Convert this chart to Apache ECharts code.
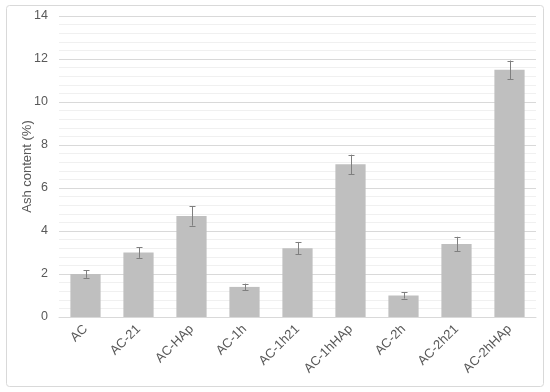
<!DOCTYPE html>
<html>
<head>
<meta charset="utf-8">
<script src="https://cdn.jsdelivr.net/npm/echarts@6/dist/echarts.min.js"></script>
<style>html,body{margin:0;padding:0;background:#fff}#c{width:550px;height:392px}</style>
</head>
<body>
<div id="c"></div>
<script>
const categories = ['AC','AC-21','AC-HAp','AC-1h','AC-1h21','AC-1hHAp','AC-2h','AC-2h21','AC-2hHAp'];
const ashValues = [2.0, 3.0, 4.7, 1.4, 3.2, 7.1, 1.0, 3.4, 11.5];
const ashErrors = [0.18, 0.25, 0.45, 0.15, 0.29, 0.45, 0.14, 0.33, 0.43];
const yTicks = [0, 2, 4, 6, 8, 10, 12, 14];

const errData = ashValues.map((v, i) => [i, v - ashErrors[i], v + ashErrors[i]]);

const chart = echarts.init(document.getElementById('c'), null, {renderer: 'canvas'});
chart.setOption({
  animation: false,
  backgroundColor: '#fff',
  graphic: [{
    type: 'rect', shape: {x: 6.5, y: 5.5, width: 537, height: 381, r: 3},
    style: {fill: 'none', stroke: '#d9d9d9', lineWidth: 1}, z: -10
  }],
  grid: {left: 59, right: 14, top: 16, bottom: 75, containLabel: false},
  xAxis: {
    type: 'category', data: categories,
    axisLine: {show: true, lineStyle: {color: '#d9d9d9', width: 1}},
    axisTick: {show: false},
    axisLabel: {rotate: 45, margin: 10, color: '#595959', fontSize: 13, fontFamily: 'Liberation Sans, Arial, sans-serif', interval: 0}
  },
  yAxis: {
    type: 'value', min: yTicks[0], max: yTicks[yTicks.length - 1], interval: 2,
    name: 'Ash content (%)', nameLocation: 'middle', nameGap: 25, nameMoveOverlap: false,
    nameTextStyle: {color: '#595959', fontSize: 13, fontFamily: 'Liberation Sans, Arial, sans-serif'},
    axisLine: {show: false}, axisTick: {show: false},
    axisLabel: {color: '#595959', fontSize: 12.5, margin: 11, fontFamily: 'Liberation Sans, Arial, sans-serif'},
    splitLine: {show: true, lineStyle: {color: '#d9d9d9', width: 1}},
    minorTick: {show: false, splitNumber: 5},
    minorSplitLine: {show: true, lineStyle: {color: '#f0f0f0', width: 1}}
  },
  series: [{
    type: 'bar', data: ashValues, barWidth: '57%',
    itemStyle: {color: '#bfbfbf'}, z: 2
  }, {
    type: 'custom', data: errData, z: 5,
    renderItem: function (params, api) {
      const x = api.value(0);
      const lo = api.coord([x, api.value(1)]);
      const hi = api.coord([x, api.value(2)]);
      const cx = Math.round(lo[0]) + 0.5;
      const w = 3;
      const st = {stroke: '#7f7f7f', lineWidth: 1};
      return {type: 'group', children: [
        {type: 'line', shape: {x1: cx, y1: hi[1], x2: cx, y2: lo[1]}, style: st},
        {type: 'line', shape: {x1: cx - w, y1: Math.round(hi[1]) + 0.5, x2: cx + w, y2: Math.round(hi[1]) + 0.5}, style: st},
        {type: 'line', shape: {x1: cx - w, y1: Math.round(lo[1]) + 0.5, x2: cx + w, y2: Math.round(lo[1]) + 0.5}, style: st}
      ]};
    }
  }]
});
</script>
</body>
</html>
